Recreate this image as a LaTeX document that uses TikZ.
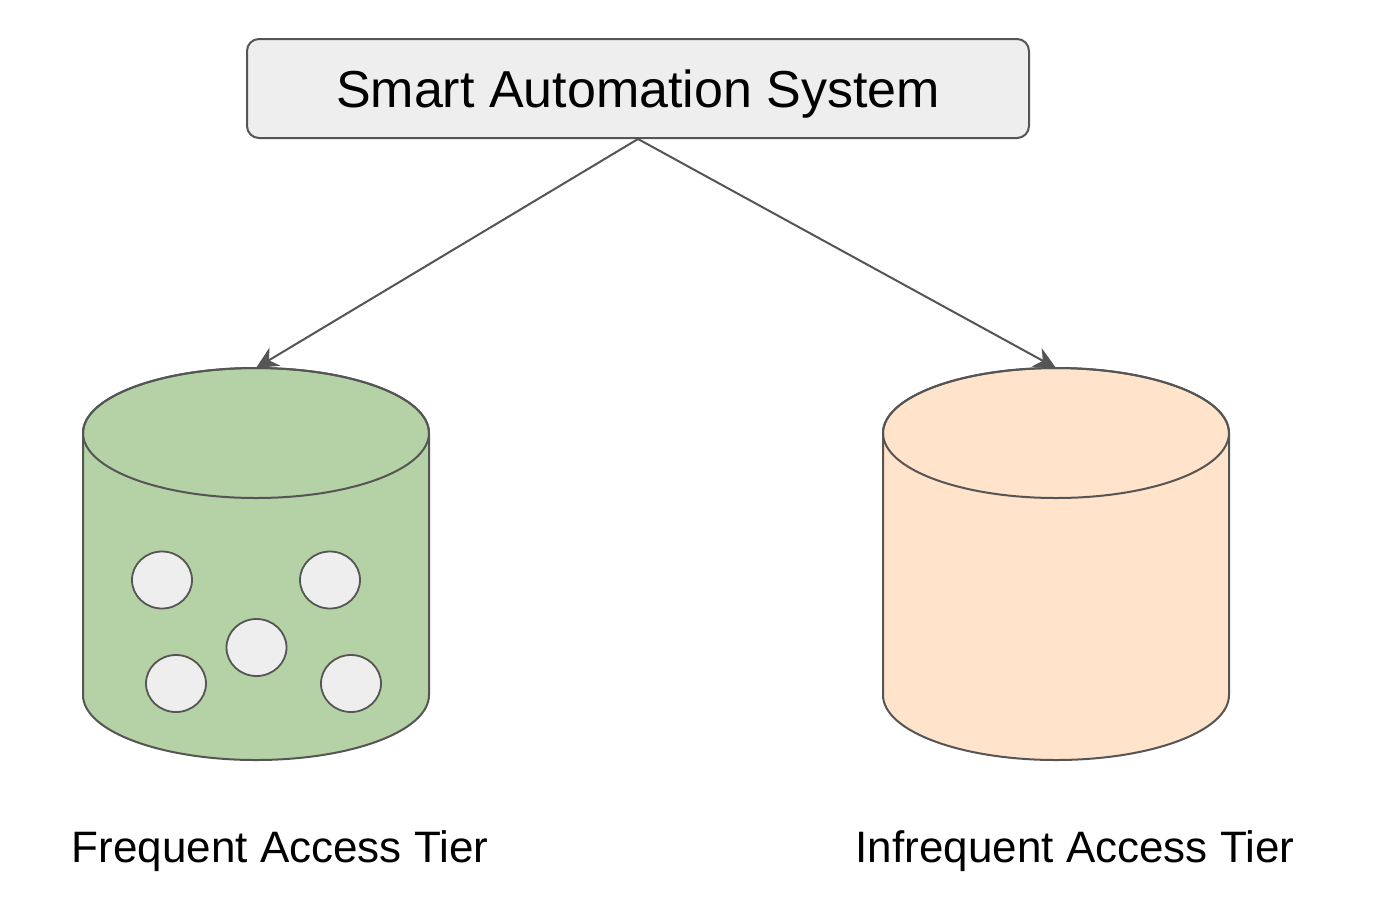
\documentclass[tikz,border=0pt]{standalone}
\usepackage{fontspec}
\setmainfont{Liberation Sans}
\usetikzlibrary{arrows.meta}
\definecolor{boxfill}{HTML}{EEEEEE}
\definecolor{edgegray}{HTML}{555555}
\definecolor{frequentgreen}{HTML}{B5D1A6}
\definecolor{infrequentpeach}{HTML}{FFE3CB}
\tikzset{
  system/.style={draw=edgegray, fill=boxfill, rounded corners=6pt, line width=1pt,
    minimum width=391pt, minimum height=49.5pt, inner sep=0pt, text depth=0pt,
    font=\fontsize{26}{30}\selectfont},
  feed/.style={draw=edgegray, line width=1pt,
    -{Stealth[length=11pt,width=10.5pt,inset=3.5pt]}},
  tierlabel/.style={font=\fontsize{22}{26}\selectfont, inner sep=0pt, anchor=base},
  tierbody/.style={draw=edgegray, line width=1pt},
  object/.style={draw=edgegray, fill=boxfill, line width=0.9pt}
}
\begin{document}
\begin{tikzpicture}[x=0.5pt,y=-0.5pt]
  \useasboundingbox (0,0) rectangle (1374,916);
  \pgfmathsetmacro{\rx}{173}
  \pgfmathsetmacro{\ry}{65}
  % the two storage tiers
  \foreach \cx/\col/\tier in {256/frequentgreen/frequent, 1056/infrequentpeach/infrequent} {%
    \draw[tierbody, fill=\col] (\cx-\rx,433) -- (\cx-\rx,695)
      arc[start angle=180, end angle=0, x radius=\rx, y radius=\ry]
      -- (\cx+\rx,433)
      arc[start angle=0, end angle=-180, x radius=\rx, y radius=\ry] -- cycle;
    \draw[tierbody] (\cx,433) ellipse[x radius=\rx, y radius=\ry];
    \coordinate (\tier-top) at (\cx,368);
  }
  % objects kept in the frequent tier
  \foreach \ox/\oy in {162/580, 330/580, 256.5/647.5, 176/683.5, 351/683.5} {%
    \draw[object] (\ox,\oy) ellipse[x radius=30, y radius=28.5];
  }
  \node[system] (system) at (638,88.5) {Smart Automation System};
  \draw[feed] (system.south) -- (frequent-top);
  \draw[feed] (system.south) -- (infrequent-top);
  \node[tierlabel] (frequent-label) at (280,862) {Frequent Access Tier};
  \node[tierlabel] (infrequent-label) at (1075,862) {Infrequent Access Tier};
\end{tikzpicture}
\end{document}
